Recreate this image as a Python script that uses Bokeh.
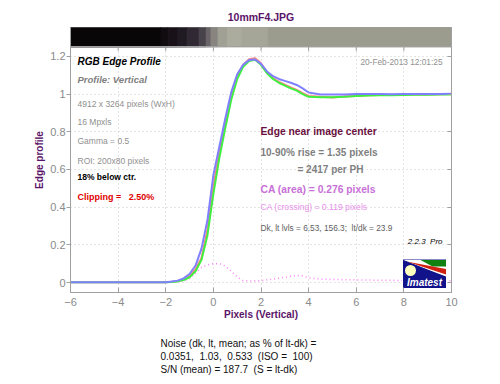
from bokeh.plotting import figure
from bokeh.models import Label, LinearAxis, FixedTicker, NumeralTickFormatter, Title
from bokeh.embed import file_html
from bokeh.resources import INLINE

# ---------------- data ----------------
px = [-6, -5, -4, -3, -2.5, -2, -1.75, -1.5, -1.25, -1, -0.75, -0.5, -0.25, 0,
      0.25, 0.5, 0.75, 1, 1.25, 1.5, 1.75, 2, 2.25, 2.5, 2.75, 3, 3.25, 3.5,
      3.75, 4, 4.5, 5, 5.5, 6, 6.5, 7, 7.5, 8, 8.5, 9, 9.5, 10]
red = [0.001, 0.001, 0.001, 0.001, 0.001, 0.002, 0.004, 0.008, 0.017, 0.035, 0.07,
       0.13, 0.28, 0.51, 0.69, 0.85, 0.99, 1.095, 1.155, 1.185, 1.19, 1.163, 1.115,
       1.085, 1.065, 1.05, 1.035, 1.022, 1.005, 0.99, 0.985, 0.982, 0.987, 0.99,
       0.994, 0.995, 0.996, 0.997, 0.998, 0.998, 0.999, 1.0]
green = [0.001, 0.001, 0.001, 0.001, 0.001, 0.001, 0.003, 0.006, 0.013, 0.028, 0.06,
         0.12, 0.25, 0.47, 0.66, 0.82, 0.97, 1.08, 1.145, 1.175, 1.182, 1.155, 1.11,
         1.08, 1.06, 1.045, 1.03, 1.018, 1.0, 0.985, 0.983, 0.983, 0.986, 0.99,
         0.992, 0.993, 0.994, 0.995, 0.996, 0.996, 0.997, 0.997]
blue = [0.002, 0.002, 0.002, 0.002, 0.002, 0.002, 0.005, 0.01, 0.022, 0.045, 0.09,
        0.18, 0.33, 0.57, 0.72, 0.87, 1.01, 1.105, 1.155, 1.18, 1.183, 1.16, 1.12,
        1.095, 1.08, 1.07, 1.06, 1.048, 1.03, 1.008, 0.998, 0.997, 0.998, 1.0,
        1.0, 1.0, 0.999, 1.0, 1.0, 1.0, 1.0, 1.002]

ca_x = [-1.5, -1.25, -1, -0.75, -0.5, -0.25, 0, 0.25, 0.5, 0.75, 1, 1.25, 1.5, 2,
        2.5, 3, 3.5, 3.75, 4, 4.5, 5, 6, 7, 8, 9, 10]
ca_y = [0.003, 0.008, 0.02, 0.05, 0.08, 0.093, 0.1, 0.1, 0.088, 0.06, 0.03, 0.01,
        0.008, 0.01, 0.018, 0.028, 0.038, 0.035, 0.025, 0.018, 0.016, 0.014, 0.012,
        0.011, 0.01, 0.01]

# edge image strip (gray levels across x)
strip_edges = [-6, -2.2, -1.9, -1.5, -1.1, -0.6, -0.3, -0.1, 0.2, 0.6, 1.2, 2.3, 10]
strip_colors = ["#080606", "#100c10", "#181218", "#201a22", "#302832", "#48424a",
                "#6a6468", "#888480", "#a0a094", "#acac9e", "#a6a698", "#9c9c8e"]

x_ticks = [-6, -4, -2, 0, 2, 4, 6, 8, 10]
y_ticks = [0, 0.2, 0.4, 0.6, 0.8, 1.0, 1.2]
strip_bottom = 1.25

NB = "\u00a0"
noise_lines = ["Noise (dk, lt, mean; as % of lt-dk) =",
               f"0.0351,{NB} 1.03,{NB} 0.533{NB} (ISO ={NB} 100)",
               f"S/N (mean) = 187.7{NB} (S = lt-dk)"]

Y0, Y1 = -0.053, 1.353
FW, FH = 381, 265
FONT = "Liberation Sans"
GRAY = "#a0a0a0"
PURPLE = "#5a1468"

p = figure(frame_width=FW, frame_height=FH, x_range=(-6, 10), y_range=(Y0, Y1),
           output_backend="svg", toolbar_location=None,
           min_border_left=70, min_border_right=49, min_border_top=27,
           min_border_bottom=91, background_fill_color="white",
           border_fill_color="white")
p.outline_line_color = GRAY

p.title.text = "10mmF4.JPG"
p.title.align = "center"
p.title.text_font = FONT
p.title.text_font_size = "10.5px"
p.title.text_font_style = "bold"
p.title.text_color = PURPLE
p.title.standoff = 10

# axes
p.xaxis.ticker = FixedTicker(ticks=x_ticks)
p.yaxis.ticker = FixedTicker(ticks=y_ticks)
p.yaxis.formatter = NumeralTickFormatter(format="0.[0]")
for ax in (p.xaxis[0], p.yaxis[0]):
    ax.axis_line_color = GRAY
    ax.major_tick_line_color = GRAY
    ax.minor_tick_line_color = None
    ax.major_label_text_color = "#8a8a8a"
    ax.major_label_text_font = FONT
    ax.major_label_text_font_size = "11px"
    ax.axis_label_text_font = FONT
    ax.axis_label_text_font_style = "bold"
    ax.axis_label_text_color = PURPLE
    ax.axis_label_text_font_size = "10px"
    ax.axis_label_standoff = 0
p.xaxis.axis_label = "Pixels (Vertical)"
p.yaxis.axis_label = "Edge profile"
p.xaxis.major_tick_in = 5
p.xaxis.major_tick_out = 0
p.xaxis.major_label_standoff = 5
p.yaxis.major_tick_in = 0
p.yaxis.major_tick_out = 4
p.yaxis.major_label_standoff = 1
p.yaxis.axis_label_standoff = 2

rax = LinearAxis(ticker=FixedTicker(ticks=y_ticks), axis_line_color=GRAY,
                 major_tick_line_color=GRAY, minor_tick_line_color=None,
                 major_tick_in=4, major_tick_out=0,
                 major_label_text_font_size="0px")
p.add_layout(rax, "right")

# spacer between the axis label and the noise block, then the noise lines
p.add_layout(Title(text=NB, text_font=FONT, text_font_size="10px", standoff=0), "below")
for t in noise_lines:
    p.add_layout(Title(text=t, align="left", offset=90, text_font=FONT,
                       text_font_size="10px", text_font_style="normal",
                       text_color="#101010", standoff=0),
                 "below")

for g in (p.xgrid[0], p.ygrid[0]):
    g.grid_line_color = "#c8c8c8"
    g.grid_line_dash = "1 3"
    g.grid_line_width = 1

# strip
p.quad(left=strip_edges[:-1], right=strip_edges[1:], bottom=strip_bottom, top=Y1,
       fill_color=strip_colors, line_color=strip_colors)
p.hspan(y=[strip_bottom], line_color=GRAY, line_width=1)
tick_len = 4 * (Y1 - Y0) / FH
p.segment(x0=x_ticks[1:-1], x1=x_ticks[1:-1], y0=strip_bottom,
          y1=strip_bottom - tick_len, line_color=GRAY)

# curves
p.line(ca_x, ca_y, line_color="#ff80ff", line_width=1.5, line_dash="1 3")
p.line(px, red, line_color="#ff8080", line_width=2)
p.line(px, green, line_color="#40f040", line_width=2)
p.line(px, blue, line_color="#8080ff", line_width=2)

# ---------- helpers: positions given in picture pixels ----------
FX0, FY1 = 70, 292  # frame left and bottom in the picture


def lab(text, ix, iy, size, color, style="normal", align="left", angle=0):
    p.add_layout(Label(x=ix - FX0, y=FY1 - iy, x_units="screen", y_units="screen",
                       text=text, text_font=FONT, text_font_size=f"{size}px",
                       text_font_style=style, text_color=color, text_align=align,
                       text_baseline="middle", angle=angle))


def dx(ix):
    return -6 + (ix - FX0) * 16 / FW


def dy(iy):
    return Y0 + (FY1 - iy) * (Y1 - Y0) / FH


# logo
p.quad(left=[dx(402)], right=[dx(446)], bottom=[dy(288)], top=[dy(258.5)],
       fill_color="#12128a", line_color="white", line_width=1)
p.patch([dx(403), dx(446), dx(446)], [dy(259.5), dy(259.5), dy(277)],
        fill_color="white", line_color=None)
p.patch([dx(420), dx(445.5), dx(445.5), dx(432)], [dy(259.5), dy(259.5), dy(266), dy(266)],
        fill_color="#108010", line_color=None)
p.patch([dx(406), dx(445.5), dx(445.5)], [dy(261), dy(268.5), dy(274)],
        fill_color="#d02010", line_color=None)
p.patch([dx(403), dx(445.5), dx(445.5)], [dy(260), dy(276), dy(278)],
        fill_color="#12128a", line_color=None)
p.scatter([dx(410)], [dy(270)], size=11, fill_color="#ffffc0", line_color=None)
lab("Imatest", 424, 282, 10, "white", "bold italic", "center")

# texts inside frame
lab("RGB Edge Profile", 77, 61, 10, "#000000", "bold italic")
lab("Profile: Vertical", 77, 79, 9.5, "#808080", "bold italic")
lab("4912 x 3264 pixels (WxH)", 77, 103, 8.5, "#909090")
lab("16 Mpxls", 77, 121, 8.5, "#909090")
lab("Gamma = 0.5", 77, 140.5, 8.5, "#909090")
lab("ROI: 200x80 pixels", 77, 160.5, 8.5, "#909090")
lab("18% below ctr.", 77, 176.5, 8.5, "#000000", "bold")
lab(f"Clipping ={NB}{NB} 2.50%", 77, 196, 9, "#e00000", "bold")
lab("20-Feb-2013 12:01:25", 442, 61, 8.3, "#909090", "normal", "right")
lab("Edge near image center", 260, 130.5, 10.3, "#6a1040", "bold")
lab("10-90% rise = 1.35 pixels", 260, 151.5, 10, "#808080", "bold")
lab("= 2417 per PH", 297, 169, 10, "#808080", "bold")
lab("CA (area) = 0.276 pixels", 260, 189, 10.3, "#c870d8", "bold")
lab("CA (crossing) = 0.119 pixels", 260, 206.5, 8.6, "#e890ec")
lab(f"Dk, lt lvls = 6.53, 156.3;{NB} lt/dk = 23.9", 260, 227.5, 8.3, "#606060")
lab(f"2.2.3{NB} Pro", 442, 240.5, 8, "#000000", "italic", "right")

open("out.html", "w").write(file_html(p, INLINE))
